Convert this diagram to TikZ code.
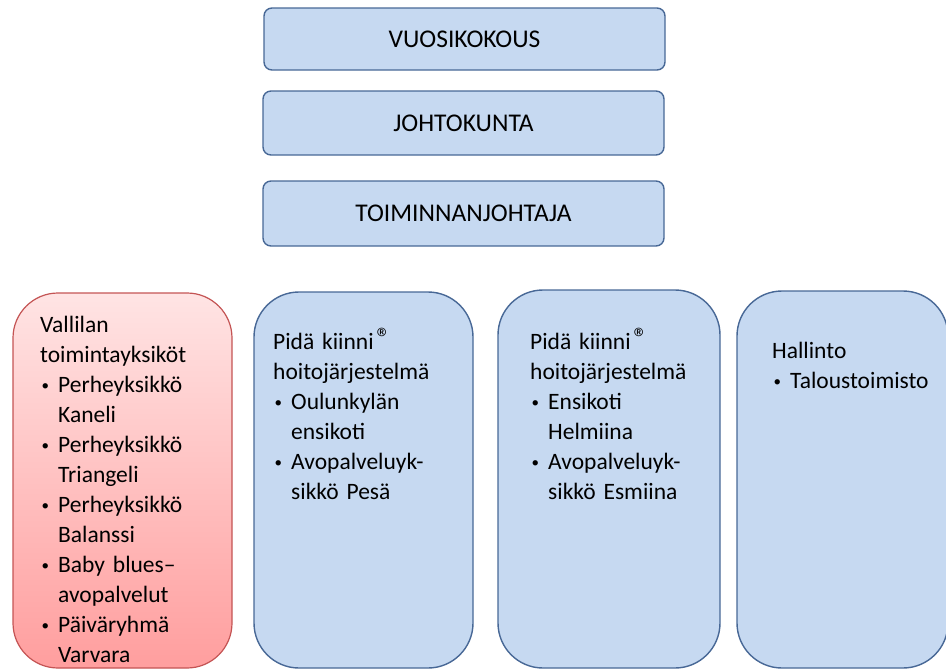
\documentclass[tikz,border=0pt]{standalone}
\usepackage{fontspec}
\setmainfont{Carlito}
\definecolor{boxblue}{RGB}{198,217,241}
\definecolor{edgeblue}{RGB}{72,104,150}
\definecolor{edgered}{RGB}{196,84,84}
\definecolor{redtop}{RGB}{255,228,228}
\definecolor{redbot}{RGB}{255,158,158}
\newcommand{\bulletmark}{\makebox[18pt][l]{\hspace{1.5pt}\raisebox{1.5pt}{\fontsize{15}{15}\selectfont •}}}
\newcommand{\bitem}[2]{\\\bulletmark #1\\\hspace*{18pt}#2}
\newcommand{\bitemone}[1]{\\\bulletmark #1}
\newcommand{\regmark}{\hspace{3pt}\raisebox{0.1ex}{\fontsize{28}{28}\selectfont ®}}
\tikzset{
  topbox/.style={draw=edgeblue, line width=1.4pt, fill=boxblue, rounded corners=8pt,
    minimum width=401pt, inner sep=0pt, font=\fontsize{25.5}{28}\selectfont},
  colbox/.style={draw=edgeblue, line width=1.4pt, fill=boxblue, rounded corners=45pt, inner sep=0pt},
  redbox/.style={draw=edgered, line width=1.2pt, top color=redtop, bottom color=redbot, rounded corners=45pt, inner sep=0pt},
  coltext/.style={anchor=base west, inner sep=0pt, text width=210pt, align=left,
    font=\fontsize{23.5}{30}\selectfont}
}
\begin{document}
\begin{tikzpicture}[x=1pt,y=-1pt]
\useasboundingbox (0,0) rectangle (946,670);
\node[topbox, minimum height=62pt] (vuosi) at (464.5,39) {VUOSIKOKOUS};
\node[topbox, minimum height=64pt] (johto) at (463.5,123) {JOHTOKUNTA};
\node[topbox, minimum height=65pt] (toim) at (463.5,213.5) {TOIMINNANJOHTAJA};

\node[redbox, minimum width=219pt, minimum height=375pt] (vallila) at (122.5,480.5) {};
\node[colbox, minimum width=219pt, minimum height=376pt] (pida1) at (363.5,480) {};
\node[colbox, minimum width=222pt, minimum height=378pt] (pida2) at (609,479) {};
\node[colbox, minimum width=211pt, minimum height=377pt] (hallinto) at (842.5,479.5) {};

\node[coltext] (vallilatxt) at (40,332) {Vallilan\\toimintayksiköt%
  \bitem{Perheyksikkö}{Kaneli}%
  \bitem{Perheyksikkö}{Triangeli}%
  \bitem{Perheyksikkö}{Balanssi}%
  \bitem{Baby blues–}{avopalvelut}%
  \bitem{Päiväryhmä}{Varvara}};
\node[coltext] (pida1txt) at (273,349) {Pidä kiinni\regmark\\hoitojärjestelmä%
  \bitem{Oulunkylän}{ensikoti}%
  \bitem{Avopalveluyk-}{sikkö Pesä}};
\node[coltext] (pida2txt) at (530,349) {Pidä kiinni\regmark\\hoitojärjestelmä%
  \bitem{Ensikoti}{Helmiina}%
  \bitem{Avopalveluyk-}{sikkö Esmiina}};
\node[coltext] (hallintotxt) at (772,358) {Hallinto%
  \bitemone{Taloustoimisto}};
\end{tikzpicture}
\end{document}
